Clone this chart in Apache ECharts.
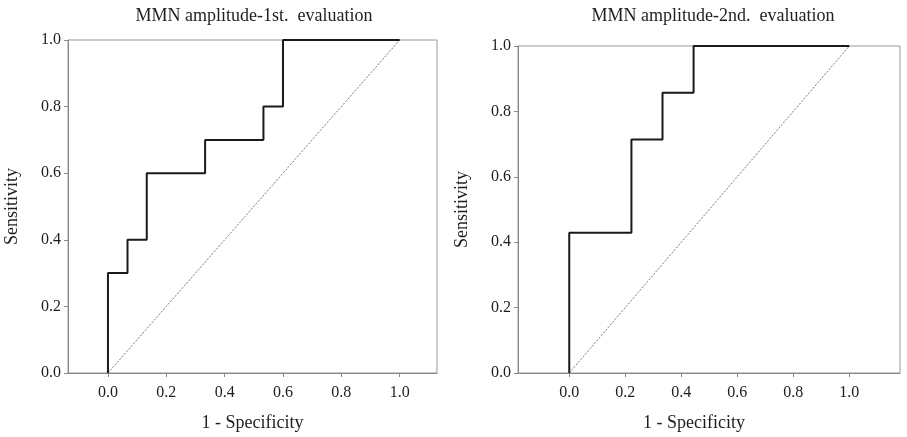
<!DOCTYPE html>
<html>
<head>
<meta charset="utf-8">
<script src="https://cdn.jsdelivr.net/npm/echarts@6/dist/echarts.min.js"></script>
<style>
  html, body { margin: 0; padding: 0; background: #fff; }
  #chart-container { width: 907px; height: 437px; }
</style>
</head>
<body>
<div id="chart-container"></div>
<script>
var titles = ["MMN amplitude-1st.  evaluation", "MMN amplitude-2nd.  evaluation"];
var tickValues = [0, 0.2, 0.4, 0.6, 0.8, 1.0];

// ROC staircase, 1st evaluation
var fpr1 = [0, 0, 0.067, 0.067, 0.133, 0.133, 0.333, 0.333, 0.533, 0.533, 0.6, 0.6, 1.0];
var tpr1 = [0, 0.3, 0.3, 0.4, 0.4, 0.6, 0.6, 0.7, 0.7, 0.8, 0.8, 1.0, 1.0];

// ROC staircase, 2nd evaluation
var fpr2 = [0, 0, 0.222, 0.222, 0.333, 0.333, 0.444, 0.444, 1.0];
var tpr2 = [0, 0.429, 0.429, 0.714, 0.714, 0.857, 0.857, 1.0, 1.0];

var refX = [0, 1];
var refY = [0, 1];

var font = "'Liberation Serif', 'DejaVu Serif', serif";
var textColor = "#1e1e1e";

var dom = document.getElementById("chart-container");
var myChart = echarts.init(dom, null, { renderer: "canvas" });

function pairs(xs, ys) {
  return xs.map(function (x, i) { return [x, ys[i]]; });
}

function xAxisFor(idx, min, max, shift) {
  return {
    gridIndex: idx,
    type: "value",
    min: min,
    max: max,
    name: "1 - Specificity",
    nameLocation: "middle",
    nameGap: 41,
    nameTextStyle: { fontFamily: font, fontSize: 18, color: textColor, padding: [0, shift, 0, 0] },
    axisLine: { show: true, onZero: false, lineStyle: { color: "#888", width: 1 } },
    axisTick: { show: true, length: 4, customValues: tickValues, lineStyle: { color: "#888" } },
    axisLabel: {
      customValues: tickValues,
      fontFamily: font, fontSize: 16, color: textColor, margin: 12,
      formatter: function (v) { return v.toFixed(1); }
    },
    splitLine: { show: false }
  };
}

function yAxisFor(idx) {
  return {
    gridIndex: idx,
    type: "value",
    min: 0,
    max: 1,
    interval: 0.2,
    name: "Sensitivity",
    nameLocation: "middle",
    nameGap: 47,
    nameTextStyle: { fontFamily: font, fontSize: 18, color: textColor },
    axisLine: { show: true, onZero: false, lineStyle: { color: "#888", width: 1 } },
    axisTick: { show: true, length: 4, lineStyle: { color: "#888" } },
    axisLabel: {
      fontFamily: font, fontSize: 16, color: textColor, margin: 7,
      formatter: function (v) { return v.toFixed(1); }
    },
    splitLine: { show: false }
  };
}

function rocSeries(idx, xs, ys) {
  return [
    {
      type: "line",
      xAxisIndex: idx, yAxisIndex: idx,
      data: pairs(refX, refY),
      symbol: "none",
      silent: true,
      lineStyle: { color: "#777", width: 1, type: [2, 1.5] }
    },
    {
      type: "line",
      xAxisIndex: idx, yAxisIndex: idx,
      data: pairs(xs, ys),
      symbol: "none",
      silent: true,
      lineStyle: { color: "#1a1a1a", width: 2 }
    }
  ];
}

var option = {
  backgroundColor: "#fff",
  animation: false,
  title: [
    {
      text: titles[0], left: 249, top: 2, textAlign: "center",
      textStyle: { fontFamily: font, fontSize: 18, fontWeight: "normal", color: textColor }
    },
    {
      text: titles[1], left: 708, top: 2, textAlign: "center",
      textStyle: { fontFamily: font, fontSize: 18, fontWeight: "normal", color: textColor }
    }
  ],
  grid: [
    { left: 68, right: 470, top: 40, bottom: 64, outerBoundsMode: "none", show: true, borderColor: "#999", borderWidth: 1 },
    { left: 518, right: 7, top: 46, bottom: 64, outerBoundsMode: "none", show: true, borderColor: "#999", borderWidth: 1 }
  ],
  xAxis: [xAxisFor(0, -0.137, 1.128, 0), xAxisFor(1, -0.183, 1.181, 30)],
  yAxis: [yAxisFor(0), yAxisFor(1)],
  series: rocSeries(0, fpr1, tpr1).concat(rocSeries(1, fpr2, tpr2))
};

myChart.setOption(option);
window.addEventListener("resize", myChart.resize);
</script>
</body>
</html>
